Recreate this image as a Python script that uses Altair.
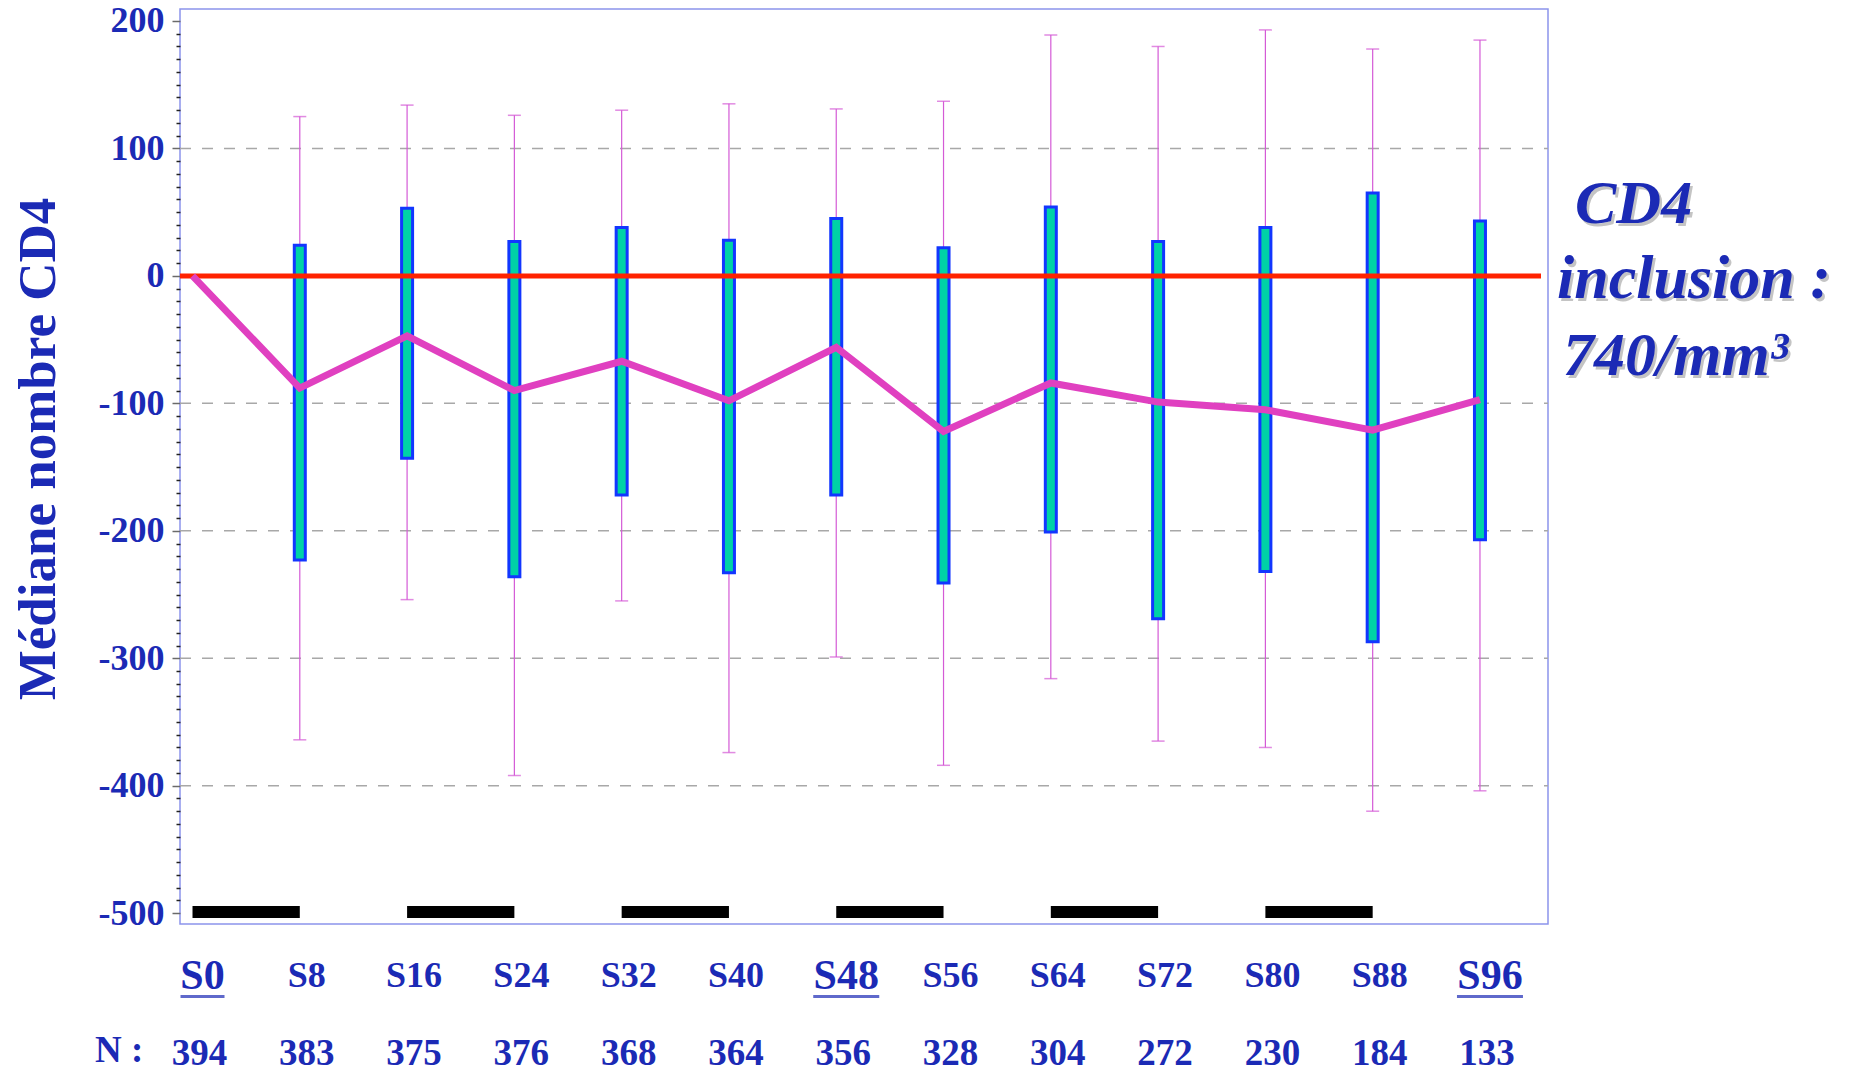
import altair as alt
import pandas as pd

# ---------------- data ----------------
weeks = [0, 8, 16, 24, 32, 40, 48, 56, 64, 72, 80, 88, 96]
labels = ["S0", "S8", "S16", "S24", "S32", "S40", "S48", "S56", "S64", "S72", "S80", "S88", "S96"]
underlined = ["S0", "S48", "S96"]
n_values = [394, 383, 375, 376, 368, 364, 356, 328, 304, 272, 230, 184, 133]
median = [0, -88, -47, -90, -67, -98, -56, -122, -84, -99, -105, -121, -97]
box_low = [None, -223, -143, -236, -172, -233, -172, -241, -201, -269, -232, -287, -207]
box_high = [None, 24, 53, 27, 38, 28, 45, 22, 54, 27, 38, 65, 43]
whisker_low = [None, -364, -254, -392, -255, -374, -299, -384, -316, -365, -370, -420, -404]
whisker_high = [None, 125, 134, 126, 130, 135, 131, 137, 189, 180, 193, 178, 185]
period_start = [0, 16, 32, 48, 64, 80]
period_end = [8, 24, 40, 56, 72, 88]
period_level = [-499] * len(period_start)
grid_values = [100, -100, -200, -300, -400]
reference_value = [0]
y_ticks = list(range(-500, 201, 10))

# ---------------- styling ----------------
W, H = 1368, 915
BLUE = "#1b2ab5"
FONT = "Liberation Serif"

df = pd.DataFrame({
    "week": weeks, "label": labels, "n": n_values, "median": median,
    "q1": box_low, "q3": box_high, "wlo": whisker_low, "whi": whisker_high,
})
df["big"] = df["label"].isin(underlined)
box_df = df.dropna(subset=["q1"])
per_df = pd.DataFrame({"start": period_start, "end": period_end, "lvl": period_level})
grid_df = pd.DataFrame({"v": grid_values})
ref_df = pd.DataFrame({"v": reference_value})

xscale = alt.Scale(domain=[-0.56, 100.7], nice=False, zero=False)
yscale = alt.Scale(domain=[-508.5, 209.4], nice=False, zero=False)
yaxis = alt.Axis(
    values=y_ticks, title=None, domain=False, grid=False,
    labelExpr="datum.value % 100 === 0 ? '' + datum.value : ''",
    labelFont=FONT, labelFontWeight="bold", labelFontSize=36, labelColor=BLUE,
    labelPadding=8, labelOverlap=False,
    tickSize=alt.condition("datum.value % 100 === 0", alt.value(8), alt.value(4)),
    tickColor=alt.condition("datum.value % 100 === 0", alt.value("#6a6a6a"), alt.value("#222222")),
    tickWidth=1.5,
)


def X(f):
    return alt.X(f, type="quantitative", scale=xscale, axis=None)


def Y(f):
    return alt.Y(f, type="quantitative", scale=yscale, axis=yaxis)


grid = alt.Chart(grid_df).mark_rule(strokeDash=[11, 11], color="#a8a8a8", strokeWidth=1.5).encode(
    y=Y("v"), x=alt.value(0), x2=alt.value(W))

whiskers = alt.Chart(box_df).mark_rule(color="#d45ad6", strokeWidth=1.2).encode(
    x=X("week"), y=Y("wlo"), y2="whi")
cap_lo = alt.Chart(box_df).mark_tick(orient="horizontal", size=13, thickness=1.5, color="#d45ad6").encode(
    x=X("week"), y=Y("wlo"))
cap_hi = alt.Chart(box_df).mark_tick(orient="horizontal", size=13, thickness=1.5, color="#d45ad6").encode(
    x=X("week"), y=Y("whi"))

boxes = alt.Chart(box_df).mark_bar(size=11, fill="#00d2a6", stroke="#1236ff", strokeWidth=3,
                                   orient="vertical").encode(
    x=X("week"), y=Y("q1"), y2="q3")

ref = alt.Chart(ref_df).mark_rule(color="#ff2200", strokeWidth=5).encode(
    y=Y("v"), x=alt.value(0), x2=alt.value(W - 7))

med = alt.Chart(df).mark_line(color="#e040c0", strokeWidth=7).encode(
    x=X("week"), y=Y("median"), order="week:Q")

periods = alt.Chart(per_df).mark_rule(color="black", strokeWidth=12).encode(
    x=X("start"), x2="end", y=Y("lvl"))

base_txt = dict(font=FONT, fontWeight="bold", color=BLUE, baseline="alphabetic", align="center")

xlab = alt.Chart(df).transform_filter("!datum.big").mark_text(fontSize=36, dx=7, **base_txt).encode(
    x=X("week"), y=alt.value(978), text="label:N")
xlab_big = alt.Chart(df).transform_filter("datum.big").mark_text(fontSize=42, dx=10, **base_txt).encode(
    x=X("week"), y=alt.value(980), text="label:N")
uline = alt.Chart(df).transform_filter("datum.big").transform_calculate(
    uw="length(datum.label) * 22").mark_tick(orient="horizontal", thickness=3, color=BLUE).encode(
    x=X("week"), y=alt.value(987.5), xOffset=alt.value(10), size=alt.Size("uw:Q", scale=None))

nlab = alt.Chart(df).mark_text(fontSize=37, dx=7, **base_txt).encode(
    x=X("week"), y=alt.value(1056), text="n:N")
nhead = alt.Chart(ref_df).mark_text(fontSize=37, font=FONT, fontWeight="bold", color=BLUE,
                                    baseline="alphabetic", align="left", text="N :").encode(
    x=alt.value(-85), y=alt.value(1053))

ytitle = alt.Chart(ref_df).mark_text(fontSize=53, font=FONT, fontWeight="bold", color=BLUE,
                                     baseline="alphabetic", align="center", angle=270,
                                     text="Médiane nombre CD4").encode(
    x=alt.value(-125), y=alt.value(440))

annot_layers = []
for txt, ax, ay in [("CD4", 1395, 214), ("inclusion :", 1377, 289), ("740/mm³", 1383, 366)]:
    for col, off in [("#c4c4c4", 2.5), (BLUE, 0)]:
        annot_layers.append(
            alt.Chart(ref_df).mark_text(fontSize=62, font=FONT, fontWeight="bold", fontStyle="italic",
                                        color=col, baseline="alphabetic", align="left", text=txt,
                                        dx=off, dy=off).encode(
                x=alt.value(ax), y=alt.value(ay)))

chart = alt.layer(
    grid, whiskers, cap_lo, cap_hi, boxes, ref, med, periods,
    xlab, xlab_big, uline, nlab, nhead, ytitle, *annot_layers
).properties(
    width=W, height=H,
    autosize=alt.AutoSizeParams(type="none"),
    padding={"left": 172, "top": 1, "right": 300, "bottom": 150},
).configure_view(stroke="#8c94ec", strokeWidth=1.5)

chart.save("out.html", embed_options={"renderer": "svg", "actions": False})
